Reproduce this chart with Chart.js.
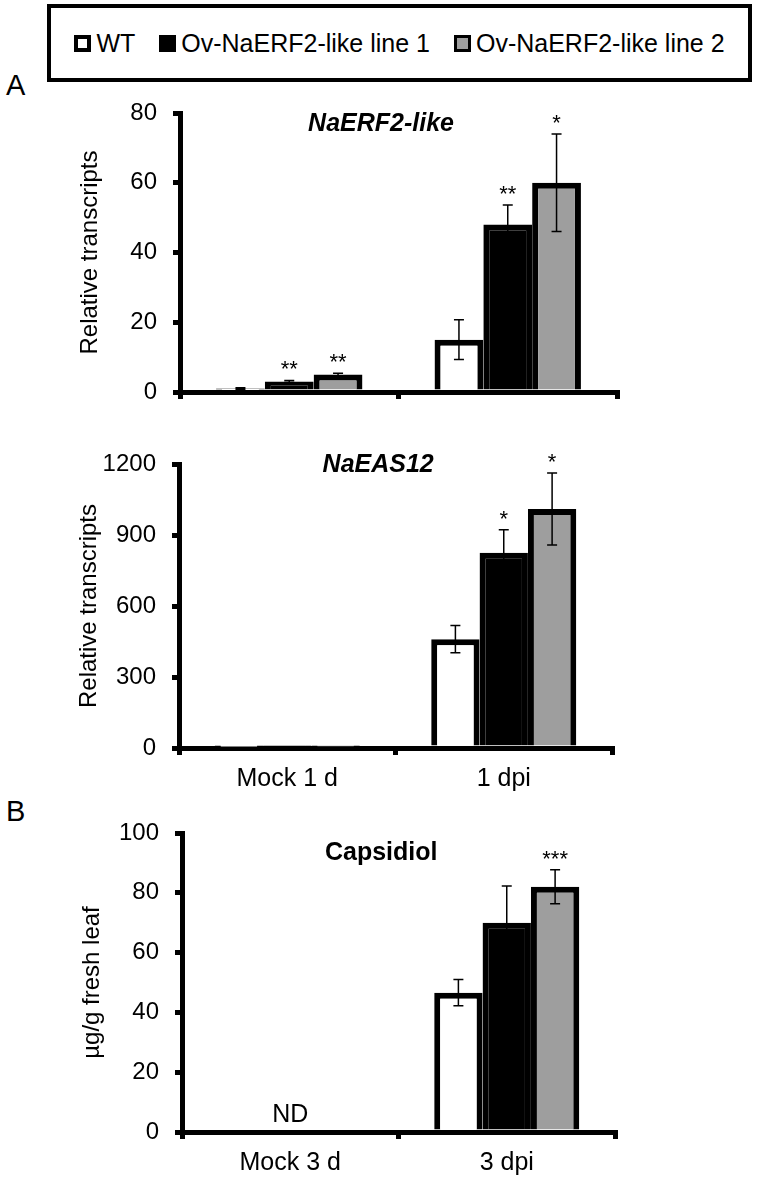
<!DOCTYPE html>
<html>
<head>
<meta charset="utf-8">
<script src="https://cdn.jsdelivr.net/npm/chart.js@4.4.1/dist/chart.umd.min.js"></script>
<style>
  body { margin: 0; background: #fff; font-family: 'Liberation Sans', Arial, sans-serif; }
  #page { position: relative; width: 759px; height: 1181px; overflow: hidden; }
  canvas { position: absolute; left: 0; }
  .legend {
    position: absolute; left: 47px; top: 4px; width: 705px; height: 78px;
    box-sizing: border-box; border: 4px solid #000;
    display: flex; align-items: center; justify-content: center; gap: 24px;
    font-size: 25px; color: #000;
  }
  .legend .item { display: flex; align-items: center; }
  .legend .box { width: 17px; height: 17px; box-sizing: border-box; border: 4px solid #000; margin-right: 5px; }
  .panel { position: absolute; left: 6px; font-size: 29px; line-height: 1; color: #000; }
</style>
</head>
<body>
<div id="page">
  <div class="legend" id="legend"></div>
  <div class="panel" style="top:71px">A</div>
  <div class="panel" style="top:797px">B</div>
  <canvas id="erfChart" width="759" height="325" style="top:95px"></canvas>
  <canvas id="easChart" width="759" height="370" style="top:440px"></canvas>
  <canvas id="capChart" width="759" height="366" style="top:815px"></canvas>
</div>
<script>
// series
const seriesNames = ['WT', 'Ov-NaERF2-like line 1', 'Ov-NaERF2-like line 2'];
const seriesColors = ['#ffffff', '#000000', '#9e9e9e'];

// NaERF2-like
const erfGroups = ['Mock 1 d', '1 dpi'];
const erfWT = [1, 15];
const erfL1 = [3, 48];
const erfL2 = [5, 60];
const erfWTErr = [0.2, 5.7];
const erfL1Err = [0.3, 5.6];
const erfL2Err = [0.4, 14];
const erfStars = [['', ''], ['**', '**'], ['**', '*']];

// NaEAS12
const easGroups = ['Mock 1 d', '1 dpi'];
const easWT = [3, 460];
const easL1 = [6, 825];
const easL2 = [4, 1010];
const easWTErr = [null, 58];
const easL1Err = [null, 97];
const easL2Err = [null, 152];
const easStars = [['', ''], ['', '*'], ['', '*']];

// Capsidiol
const capGroups = ['Mock 3 d', '3 dpi'];
const capWT = [null, 46.6];
const capL1 = [null, 70];
const capL2 = [null, 82];
const capWTErr = [null, 4.4];
const capL1Err = [null, 12.3];
const capL2Err = [null, 5.7];
const capStars = [['', ''], ['', ''], ['', '***']];

const FONT = "'Liberation Sans', Arial, sans-serif";

// legend
const legendEl = document.getElementById('legend');
seriesNames.forEach((name, i) => {
    const item = document.createElement('div');
    item.className = 'item';
    const box = document.createElement('span');
    box.className = 'box';
    box.style.background = seriesColors[i];
    if (i === 2) box.style.borderWidth = '3px';
    item.appendChild(box);
    item.appendChild(document.createTextNode(name));
    legendEl.appendChild(item);
});

// error bars, asterisks, in-plot title, ND
function marksPlugin(errs, stars, title, nd) {
    return {
        id: 'marks',
        afterDatasetsDraw(chart) {
            const ctx = chart.ctx;
            const ys = chart.scales.y;
            const xs = chart.scales.x;
            const area = chart.chartArea;
            ctx.save();
            chart.data.datasets.forEach((ds, i) => {
                chart.getDatasetMeta(i).data.forEach((bar, j) => {
                    const v = ds.data[j];
                    const e = errs[i][j];
                    if (v == null) return;
                    let top = ys.getPixelForValue(v);
                    if (e != null) {
                        const hi = ys.getPixelForValue(v + e);
                        const lo = ys.getPixelForValue(v - e);
                        ctx.strokeStyle = '#000';
                        ctx.lineWidth = 1.5;
                        ctx.beginPath();
                        ctx.moveTo(bar.x, hi); ctx.lineTo(bar.x, lo);
                        ctx.moveTo(bar.x - 5, hi); ctx.lineTo(bar.x + 5, hi);
                        ctx.moveTo(bar.x - 5, lo); ctx.lineTo(bar.x + 5, lo);
                        ctx.stroke();
                        top = hi;
                    }
                    const s = stars[i][j];
                    if (s) {
                        ctx.fillStyle = '#000';
                        ctx.font = '22px ' + FONT;
                        ctx.textAlign = 'center';
                        ctx.textBaseline = 'alphabetic';
                        ctx.fillText(s, bar.x, top - 4);
                    }
                });
            });
            ctx.fillStyle = '#000';
            ctx.textAlign = 'center';
            ctx.textBaseline = 'middle';
            ctx.font = title.font;
            ctx.fillText(title.text, area.left + area.width * 0.46, area.top + title.dy);
            if (nd) {
                ctx.font = '25px ' + FONT;
                ctx.fillText('ND', xs.getPixelForValue(0), ys.getPixelForValue(0) - 17);
            }
            ctx.restore();
        }
    };
}

function makeChart(id, groups, series, cfg) {
    const ctx = document.getElementById(id).getContext('2d');
    return new Chart(ctx, {
        type: 'bar',
        data: {
            labels: groups,
            datasets: series.map((d, i) => ({
                label: seriesNames[i],
                data: d,
                backgroundColor: seriesColors[i],
                borderColor: '#000',
                borderWidth: 6,
                categoryPercentage: 0.67,
                barPercentage: 1.0,
            })),
        },
        options: {
            responsive: false,
            animation: false,
            layout: { padding: cfg.padding },
            plugins: {
                legend: { display: false },
                tooltip: { enabled: false },
            },
            scales: {
                x: {
                    grid: {
                        display: true,
                        offset: true,
                        drawOnChartArea: false,
                        drawTicks: true,
                        tickLength: 7,
                        lineWidth: 5,
                        tickWidth: 5,
                        color: '#000',
                    },
                    border: { display: true, width: 5, color: '#000' },
                    ticks: {
                        display: cfg.showX,
                        color: '#000',
                        padding: 9,
                        font: { family: FONT, size: 25 },
                    },
                    afterFit: s => {
                        s.height = cfg.showX ? 48 : 10;
                        s.paddingLeft = 0;
                        s.paddingRight = 0;
                    },
                },
                y: {
                    min: 0,
                    max: cfg.max,
                    ticks: {
                        stepSize: cfg.step,
                        color: '#000',
                        padding: 16,
                        font: { family: FONT, size: 24 },
                        callback: v => String(v),
                    },
                    grid: {
                        display: true,
                        drawOnChartArea: false,
                        drawTicks: true,
                        tickLength: 7,
                        lineWidth: 5,
                        tickWidth: 5,
                        color: '#000',
                    },
                    border: { display: true, width: 5, color: '#000' },
                    title: {
                        display: true,
                        text: cfg.yTitle,
                        color: '#000',
                        padding: { top: 6, bottom: 0 },
                        font: { family: FONT, size: 24 },
                    },
                    afterFit: s => {
                        s.width = 110;
                        s.paddingTop = 0;
                        s.paddingBottom = 0;
                    },
                },
            },
        },
        plugins: [marksPlugin(cfg.errs, cfg.stars, cfg.title, cfg.nd)],
    });
}

makeChart('erfChart', erfGroups, [erfWT, erfL1, erfL2], {
    max: 80, step: 20, showX: false,
    padding: { top: 18, bottom: 18, left: 70, right: 142 },
    yTitle: 'Relative transcripts',
    errs: [erfWTErr, erfL1Err, erfL2Err],
    stars: erfStars,
    title: { text: 'NaERF2-like', font: 'italic bold 25px ' + FONT, dy: 11 },
    nd: false,
});

makeChart('easChart', easGroups, [easWT, easL1, easL2], {
    max: 1200, step: 300, showX: true,
    padding: { top: 24, bottom: 14, left: 69, right: 147 },
    yTitle: 'Relative transcripts',
    errs: [easWTErr, easL1Err, easL2Err],
    stars: easStars,
    title: { text: 'NaEAS12', font: 'italic bold 25px ' + FONT, dy: 1 },
    nd: false,
});

makeChart('capChart', capGroups, [capWT, capL1, capL2], {
    max: 100, step: 20, showX: true,
    padding: { top: 18, bottom: 1, left: 72, right: 144 },
    yTitle: 'µg/g fresh leaf',
    errs: [capWTErr, capL1Err, capL2Err],
    stars: capStars,
    title: { text: 'Capsidiol', font: 'bold 25px ' + FONT, dy: 20 },
    nd: true,
});
</script>
</body>
</html>
